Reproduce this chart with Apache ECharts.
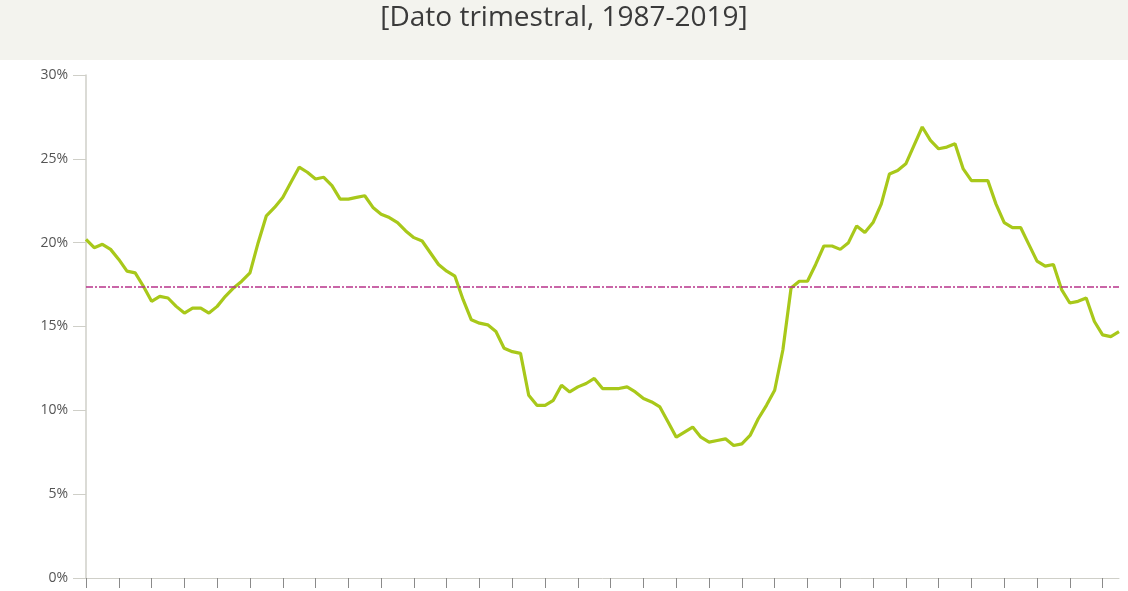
<!DOCTYPE html>
<html>
<head>
<meta charset="utf-8">
<script src="https://cdn.jsdelivr.net/npm/echarts@6/dist/echarts.min.js"></script>
<style>
  html, body { margin: 0; padding: 0; background: #fff; }
  #chart { width: 1128px; height: 591px; }
</style>
</head>
<body>
<div id="chart"></div>
<script>
// quarterly values, 1987-2018 (%)
var values = [
  20.2, 19.7, 19.9, 19.6, 19.0, 18.3, 18.2, 17.4, 16.5, 16.8,
  16.7, 16.2, 15.8, 16.1, 16.1, 15.8, 16.2, 16.8, 17.3, 17.7,
  18.2, 20.0, 21.6, 22.1, 22.7, 23.6, 24.5, 24.2, 23.8, 23.9,
  23.4, 22.6, 22.6, 22.7, 22.8, 22.1, 21.7, 21.5, 21.2, 20.7,
  20.3, 20.1, 19.4, 18.7, 18.3, 18.0, 16.6, 15.4, 15.2, 15.1,
  14.7, 13.7, 13.5, 13.4, 10.9, 10.3, 10.3, 10.6, 11.5, 11.1,
  11.4, 11.6, 11.9, 11.3, 11.3, 11.3, 11.4, 11.1, 10.7, 10.5,
  10.2, 9.3, 8.4, 8.7, 9.0, 8.4, 8.1, 8.2, 8.3, 7.9,
  8.0, 8.5, 9.5, 10.3, 11.2, 13.6, 17.3, 17.7, 17.7, 18.7,
  19.8, 19.8, 19.6, 20.0, 21.0, 20.6, 21.2, 22.3, 24.1, 24.3,
  24.7, 25.8, 26.9, 26.1, 25.6, 25.7, 25.9, 24.4, 23.7, 23.7,
  23.7, 22.3, 21.2, 20.9, 20.9, 19.9, 18.9, 18.6, 18.7, 17.2,
  16.4, 16.5, 16.7, 15.3, 14.5, 14.4, 14.7
];
var meanValue = 17.35;
var yTicks = [0, 5, 10, 15, 20, 25, 30];
var quarters = values.map(function (v, i) {
  return (1987 + Math.floor(i / 4)) + 'T' + (i % 4 + 1);
});

var chart = echarts.init(document.getElementById('chart'), null, { renderer: 'canvas' });

chart.setOption({
  animation: false,
  graphic: [{
    type: 'rect',
    shape: { x: 0, y: 0, width: 1128, height: 60 },
    style: { fill: '#f3f3ee' },
    z: 0
  }, {
    type: 'text',
    left: 'center',
    top: 4,
    style: {
      text: '[Dato trimestral, 1987-2019]',
      font: '28px "Open Sans", sans-serif',
      fill: '#3a3a3a'
    }
  }],
  grid: { left: 86, right: 9, top: 75, bottom: 13 },
  xAxis: {
    type: 'category',
    data: quarters,
    boundaryGap: false,
    axisLine: { lineStyle: { color: '#cfcfc8' } },
    axisTick: { interval: 3, length: 10, lineStyle: { color: '#8a8a8a' } },
    axisLabel: { show: false },
    splitLine: { show: false }
  },
  yAxis: {
    type: 'value',
    min: yTicks[0],
    max: yTicks[yTicks.length - 1],
    interval: 5,
    axisLine: { show: true, lineStyle: { color: '#cfcfc8', width: 1.5 } },
    axisTick: { show: true, inside: false, length: 13, lineStyle: { color: '#cfcfc8' } },
    axisLabel: {
      formatter: '{value}%',
      color: '#555',
      fontSize: 14,
      fontFamily: 'Open Sans',
      margin: 18
    },
    splitLine: { show: false }
  },
  series: [{
    type: 'line',
    data: values,
    symbol: 'none',
    lineStyle: { color: '#a8c81a', width: 3.2 },
    markLine: {
      silent: true,
      symbol: 'none',
      label: { show: false },
      lineStyle: { color: '#b8338a', type: [7, 2, 2, 2], width: 1.5, opacity: 1 },
      data: [{ yAxis: meanValue }]
    }
  }]
});
</script>
</body>
</html>
